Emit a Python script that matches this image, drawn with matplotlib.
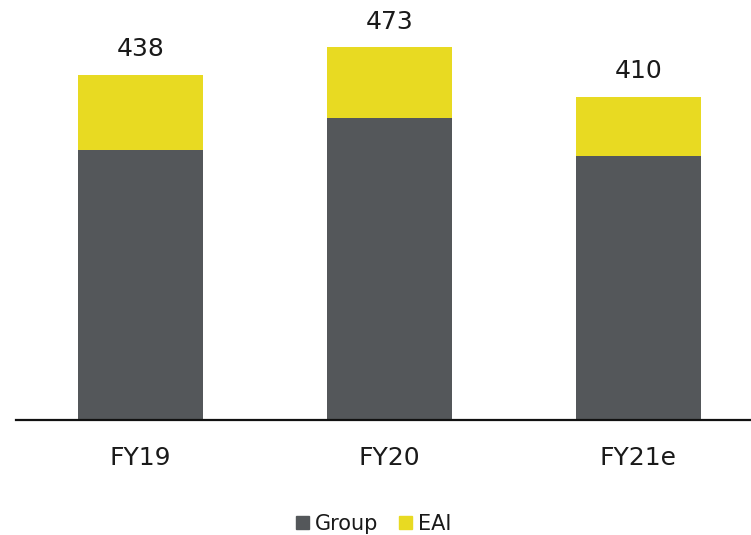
import matplotlib
matplotlib.use("Agg")
import matplotlib.pyplot as plt
from matplotlib.patches import Patch

categories = ["FY19", "FY20", "FY21e"]
group = [343, 383, 335]
eai = [95, 90, 75]
totals = [438, 473, 410]

GRAY = "#54575A"
YELLOW = "#E8DA22"

plt.rcParams['font.family'] = ['DejaVu Sans']

fig = plt.figure(figsize=(7.51, 5.35), dpi=100)
ax = fig.add_axes([16/751, 1 - 420/535, 1 - 16/751, 420/535])

x = list(range(len(categories)))
ax.bar(x, group, width=0.502, color=GRAY, zorder=2)
ax.bar(x, eai, width=0.502, bottom=group, color=YELLOW, zorder=2)

for xi, t in zip(x, totals):
    ax.annotate(f"{t}", (xi, t), xytext=(0, 10), textcoords="offset points",
                ha="center", va="bottom", fontsize=18, color="#1a1a1a")

ax.set_xlim(-0.5, 2.453)
ax.set_ylim(0, 533.2)
ax.set_xticks(x)
ax.set_xticklabels(categories, fontsize=18, color="#1a1a1a")
ax.tick_params(axis="x", length=0, pad=19)
ax.set_yticks([])
for s in ["top", "right", "left"]:
    ax.spines[s].set_visible(False)
ax.spines["bottom"].set_linewidth(1.6)
ax.spines["bottom"].set_color("#111111")
ax.spines["bottom"].set_zorder(3)

handles = [Patch(color=GRAY, label="Group"), Patch(color=YELLOW, label="EAI")]
fig.legend(handles=handles, loc="center", bbox_to_anchor=(374/751, 1 - 524/535),
           ncol=2, frameon=False, fontsize=15, handlelength=0.6, handleheight=0.6,
           handletextpad=0.3, columnspacing=1.0, borderpad=0, labelcolor="#1a1a1a")

fig.savefig("out.png", dpi=100)
